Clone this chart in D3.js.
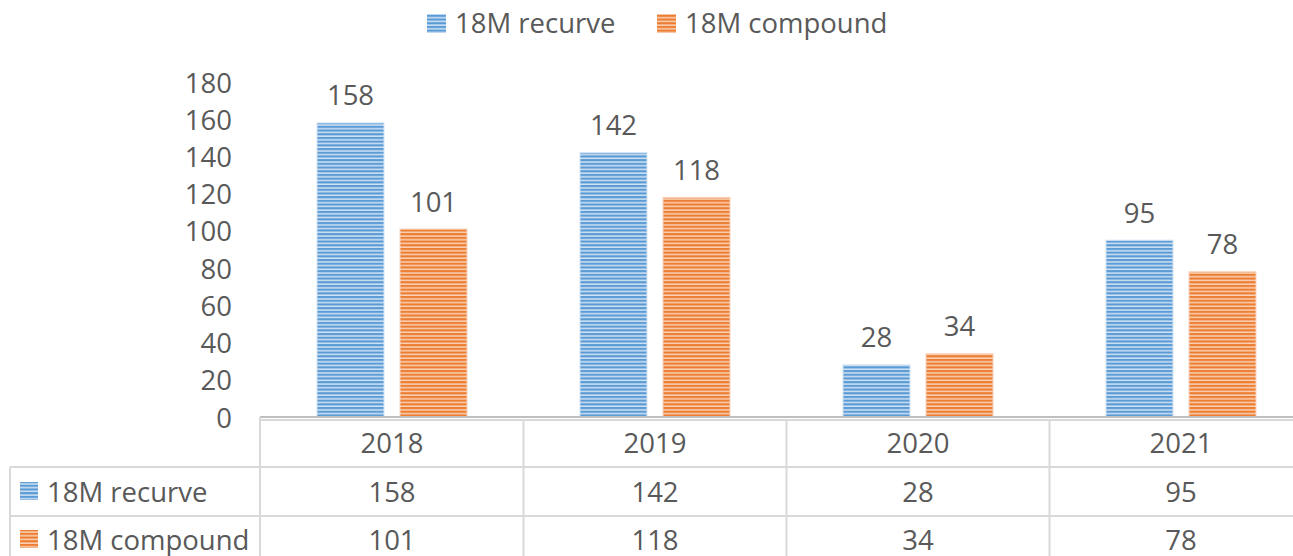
<!DOCTYPE html>
<meta charset="utf-8">
<style>
    body { margin: 0; background: #fff; }
    text {
        font-family: "Open Sans", sans-serif;
        font-size: 27.5px;
        fill: #595959;
    }
</style>

<svg width="1293" height="556"></svg>

<script src="https://d3js.org/d3.v7.min.js"></script>

<script>
    var years = ["2018", "2019", "2020", "2021"];
    var seriesNames = ["18M recurve", "18M compound"];
    var recurve = [158, 142, 28, 95];
    var compound = [101, 118, 34, 78];
    var yTicks = [0, 20, 40, 60, 80, 100, 120, 140, 160, 180];

    var seriesValues = [recurve, compound];

    var svg = d3.select("svg");

    var x = d3.scaleBand().domain(years).range([260.5, 1312.5]);
    var x1 = d3.scaleBand().domain(seriesNames).range([0, 150]).paddingInner(0.193);
    var y = d3.scaleLinear().domain([0, 180]).range([417, 82]);
    var groupOffset = (x.bandwidth() - 150) / 2;

    /* striped fills */
    var fills = [
        { id: "stripeBlue", dark: "#5B9BD5", light: "#D2E3F4" },
        { id: "stripeOrange", dark: "#ED7D31", light: "#F9D3BA" }
    ];
    var defs = svg.append("defs");
    fills.forEach(function (f) {
        var p = defs.append("pattern")
            .attr("id", f.id)
            .attr("patternUnits", "userSpaceOnUse")
            .attr("width", 8).attr("height", 3.7);
        p.append("rect").attr("width", 8).attr("height", 3.7).attr("fill", f.light);
        p.append("rect").attr("width", 8).attr("height", 2.2).attr("fill", f.dark);
    });

    /* y axis labels */
    svg.append("g").selectAll("text")
        .data(yTicks)
        .enter().append("text")
        .attr("x", 232)
        .attr("y", function (d) { return y(d); })
        .attr("text-anchor", "end")
        .attr("dominant-baseline", "central")
        .text(function (d) { return d; });

    /* bars */
    var groups = svg.append("g").selectAll("g")
        .data(years)
        .enter().append("g")
        .attr("transform", function (d) { return "translate(" + (x(d) + groupOffset) + ",0)"; });

    groups.selectAll("rect")
        .data(function (d, i) {
            return seriesNames.map(function (s, k) {
                return { series: s, k: k, value: seriesValues[k][i] };
            });
        })
        .enter().append("rect")
        .attr("x", function (d) { return x1(d.series); })
        .attr("y", function (d) { return y(d.value); })
        .attr("width", x1.bandwidth())
        .attr("height", function (d) { return y(0) - y(d.value); })
        .attr("fill", function (d) { return "url(#" + fills[d.k].id + ")"; })
        .attr("stroke", function (d) { return fills[d.k].light; })
        .attr("stroke-width", 1);

    groups.selectAll("text")
        .data(function (d, i) {
            return seriesNames.map(function (s, k) {
                return { series: s, value: seriesValues[k][i] };
            });
        })
        .enter().append("text")
        .attr("x", function (d) { return x1(d.series) + x1.bandwidth() / 2; })
        .attr("y", function (d) { return y(d.value) - 28; })
        .attr("text-anchor", "middle")
        .attr("dominant-baseline", "central")
        .text(function (d) { return d.value; });

    /* axis line */
    svg.append("line")
        .attr("x1", 260).attr("x2", 1293)
        .attr("y1", 417).attr("y2", 417)
        .attr("stroke", "#BFBFBF").attr("stroke-width", 2);

    /* data table */
    var grid = svg.append("g").attr("stroke", "#D9D9D9").attr("stroke-width", 2);
    grid.append("line").attr("x1", 260).attr("x2", 1293).attr("y1", 420).attr("y2", 420);
    grid.append("line").attr("x1", 10).attr("x2", 1293).attr("y1", 467).attr("y2", 467);
    grid.append("line").attr("x1", 10).attr("x2", 1293).attr("y1", 516).attr("y2", 516);
    grid.append("line").attr("x1", 10).attr("x2", 10).attr("y1", 467).attr("y2", 556);
    grid.append("line").attr("x1", 260).attr("x2", 260).attr("y1", 417).attr("y2", 556);
    years.slice(1).forEach(function (yr) {
        grid.append("line").attr("x1", x(yr)).attr("x2", x(yr)).attr("y1", 420).attr("y2", 556);
    });

    svg.append("g").selectAll("text")
        .data(years)
        .enter().append("text")
        .attr("x", function (d) { return x(d) + x.bandwidth() / 2; })
        .attr("y", 442)
        .attr("text-anchor", "middle")
        .attr("dominant-baseline", "central")
        .text(function (d) { return d; });

    var rowY = [491, 539];
    seriesNames.forEach(function (s, k) {
        svg.append("rect")
            .attr("x", 20).attr("y", rowY[k] - 9)
            .attr("width", 18).attr("height", 18)
            .attr("fill", "url(#" + fills[k].id + ")");
        svg.append("text")
            .attr("x", 47).attr("y", rowY[k])
            .attr("dominant-baseline", "central")
            .text(s);
        svg.append("g").selectAll("text")
            .data(seriesValues[k])
            .enter().append("text")
            .attr("x", function (d, i) { return x(years[i]) + x.bandwidth() / 2; })
            .attr("y", rowY[k])
            .attr("text-anchor", "middle")
            .attr("dominant-baseline", "central")
            .text(function (d) { return d; });
    });

    /* legend */
    var legendX = [427, 657];
    seriesNames.forEach(function (s, k) {
        svg.append("rect")
            .attr("x", legendX[k]).attr("y", 14)
            .attr("width", 19).attr("height", 19)
            .attr("fill", "url(#" + fills[k].id + ")");
        svg.append("text")
            .attr("x", legendX[k] + 28).attr("y", 22)
            .attr("dominant-baseline", "central")
            .text(s);
    });
</script>
